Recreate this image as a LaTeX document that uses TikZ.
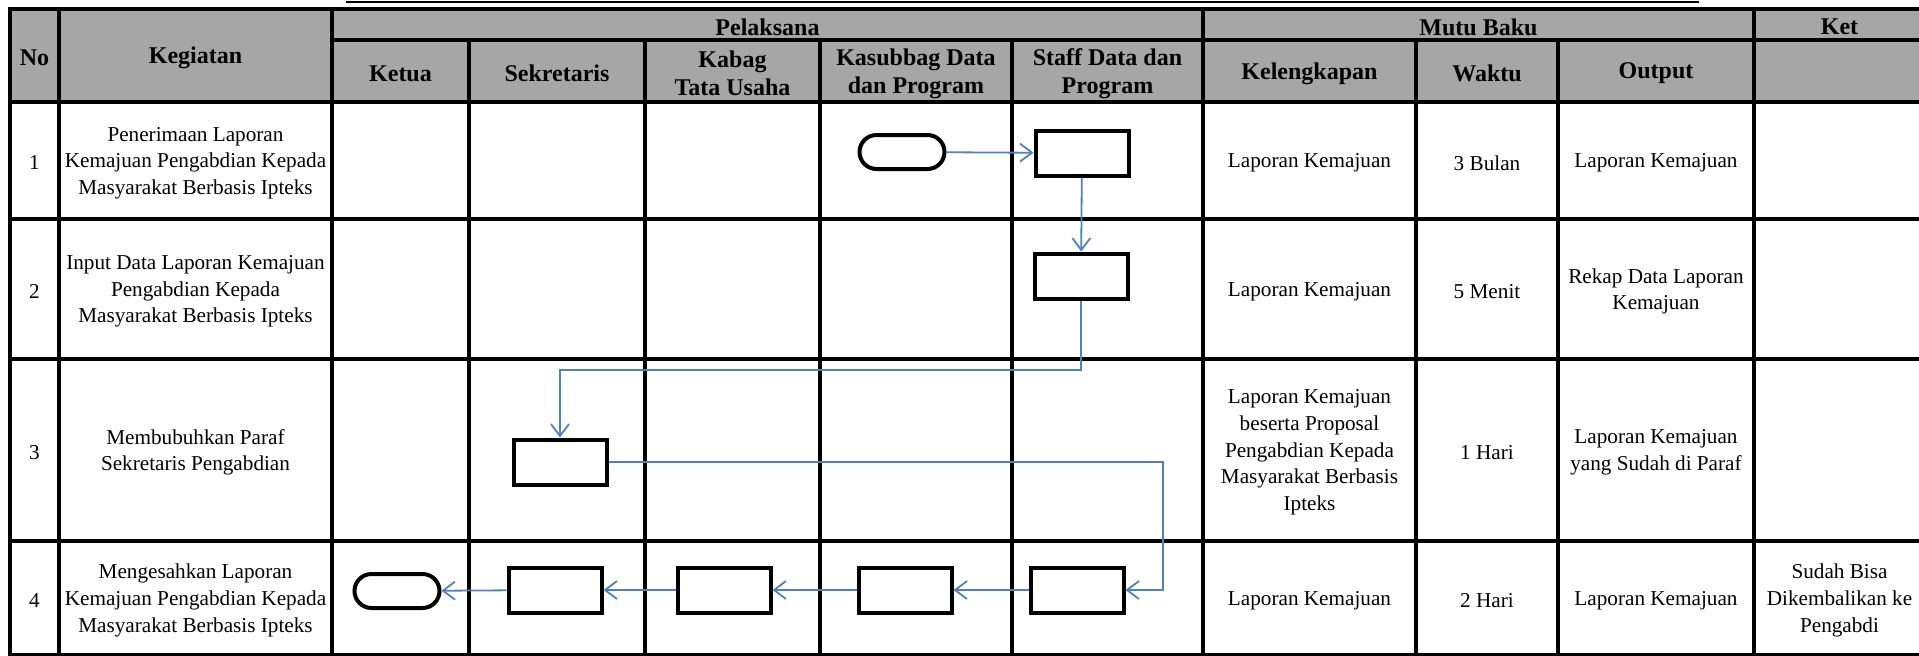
\documentclass[tikz,border=0pt]{standalone}
\usepackage{fontspec}
\setmainfont{Liberation Serif}
\usepackage{tikz}
\usetikzlibrary{arrows.meta,shapes.misc}
\definecolor{hdrgrey}{RGB}{166,166,166}
\definecolor{flowblue}{RGB}{79,129,189}

\begin{document}
\begin{tikzpicture}[x=0.5pt, y=-0.5pt,
    hdr/.style={font=\bfseries\fontsize{12}{14}\selectfont, align=center, inner sep=0pt, yshift=-1.2pt},
    cell/.style={font=\fontsize{10.6}{13.3}\selectfont, align=center, inner sep=0pt, yshift=-1.2pt},
    grid/.style={line width=2.2pt, line cap=rect},
    proc/.style={rectangle, draw, line width=2pt, minimum width=46.5pt, minimum height=22.5pt, inner sep=0pt},
    term/.style={rounded rectangle, draw, line width=2pt, minimum width=42.5pt, minimum height=17pt, inner sep=0pt},
    flow/.style={-{Straight Barb[length=6pt, width=9pt]}, line width=0.9pt, flowblue}
]
    \useasboundingbox (0,0) rectangle (1919,655);

    % header band and rule above it
    \fill[hdrgrey] (10,9) rectangle (1925,102);
    \draw[line width=1pt] (346,2) -- (1699,2);

    % table rules
    \draw[grid] (10,9) -- (1925,9);
    \draw[grid] (332,40) -- (1925,40);
    \draw[grid] (10,102) -- (1925,102);
    \draw[grid] (10,219) -- (1925,219);
    \draw[grid] (10,359) -- (1925,359);
    \draw[grid] (10,541) -- (1925,541);
    \draw[grid] (10,655) -- (1925,655);
    \draw[grid] (10,9) -- (10,655);
    \draw[grid] (59,9) -- (59,655);
    \draw[grid] (332,9) -- (332,655);
    \draw[grid] (469,40) -- (469,655);
    \draw[grid] (645,40) -- (645,655);
    \draw[grid] (820,40) -- (820,655);
    \draw[grid] (1012,40) -- (1012,655);
    \draw[grid] (1203,9) -- (1203,655);
    \draw[grid] (1416,40) -- (1416,655);
    \draw[grid] (1558,40) -- (1558,655);
    \draw[grid] (1754,9) -- (1754,655);

    % header texts
    \node[hdr] (hno)    at (34.5,55.5)  {No};
    \node[hdr] (hkeg)   at (195.5,55.5) {Kegiatan};
    \node[hdr] (hpel)   at (767.5,24.5) {Pelaksana};
    \node[hdr] (hmutu)  at (1478.5,24.5) {Mutu Baku};
    \node[hdr] (hket)   at (1839.5,24.5) {Ket};
    \node[hdr] (hketua) at (400.5,71)  {Ketua};
    \node[hdr] (hsek)   at (557,71)    {Sekretaris};
    \node[hdr] (hkabag) at (732.5,71)  {Kabag\\Tata Usaha};
    \node[hdr] (hkasub) at (916,71)    {Kasubbag Data\\dan Program};
    \node[hdr] (hstaff) at (1107.5,71) {Staff Data dan\\Program};
    \node[hdr] (hkel)   at (1309.5,71) {Kelengkapan};
    \node[hdr] (hwaktu) at (1487,71)   {Waktu};
    \node[hdr] (hout)   at (1656,71)   {Output};

    % row 1
    \node[cell] (no1)  at (34.5,160.5)  {1};
    \node[cell] (keg1) at (195.5,160.5) {Penerimaan Laporan\\Kemajuan Pengabdian Kepada\\Masyarakat Berbasis Ipteks};
    \node[cell] (kel1) at (1309.5,160.5) {Laporan Kemajuan};
    \node[cell] (wak1) at (1487,160.5)  {3 Bulan};
    \node[cell] (out1) at (1656,160.5)  {Laporan Kemajuan};

    % row 2
    \node[cell] (no2)  at (34.5,289)  {2};
    \node[cell] (keg2) at (195.5,289) {Input Data Laporan Kemajuan\\Pengabdian Kepada\\Masyarakat Berbasis Ipteks};
    \node[cell] (kel2) at (1309.5,289) {Laporan Kemajuan};
    \node[cell] (wak2) at (1487,289)  {5 Menit};
    \node[cell] (out2) at (1656,289)  {Rekap Data Laporan\\Kemajuan};

    % row 3
    \node[cell] (no3)  at (34.5,450)  {3};
    \node[cell] (keg3) at (195.5,450) {Membubuhkan Paraf\\Sekretaris Pengabdian};
    \node[cell] (kel3) at (1309.5,450) {Laporan Kemajuan\\beserta Proposal\\Pengabdian Kepada\\Masyarakat Berbasis\\Ipteks};
    \node[cell] (wak3) at (1487,450)  {1 Hari};
    \node[cell] (out3) at (1656,450)  {Laporan Kemajuan\\yang Sudah di Paraf};

    % row 4
    \node[cell] (no4)  at (34.5,598)  {4};
    \node[cell] (keg4) at (195.5,598) {Mengesahkan Laporan\\Kemajuan Pengabdian Kepada\\Masyarakat Berbasis Ipteks};
    \node[cell] (kel4) at (1309.5,598) {Laporan Kemajuan};
    \node[cell] (wak4) at (1487,598)  {2 Hari};
    \node[cell] (out4) at (1656,598)  {Laporan Kemajuan};
    \node[cell] (ket4) at (1839.5,598) {Sudah Bisa\\Dikembalikan ke\\Pengabdi};

    % flow symbols
    \node[term] (start) at (902,152)  {};
    \node[proc] (terima) at (1082,153) {};
    \node[proc] (input)  at (1081,276) {};
    \node[proc] (paraf)  at (560,462)  {};
    \node[proc] (sahstaff) at (1077,590) {};
    \node[proc] (sahkasub) at (905,590)  {};
    \node[proc] (sahkabag) at (724,590)  {};
    \node[proc] (sahsek)   at (555,590)  {};
    \node[term] (stop)     at (397,591)  {};

    \coordinate (bend1) at (560,370);
    \coordinate (bend2) at (1163,462);

    \draw[flow] (start) -- (terima);
    \draw[flow] (terima) -- (input);
    \draw[flow] (input.south) |- (bend1) -- (paraf.north);
    \draw[flow] (paraf.east) -- (bend2) |- (sahstaff.east);
    \draw[flow] (sahstaff) -- (sahkasub);
    \draw[flow] (sahkasub) -- (sahkabag);
    \draw[flow] (sahkabag) -- (sahsek);
    \draw[flow] (sahsek) -- (stop);
\end{tikzpicture}
\end{document}
